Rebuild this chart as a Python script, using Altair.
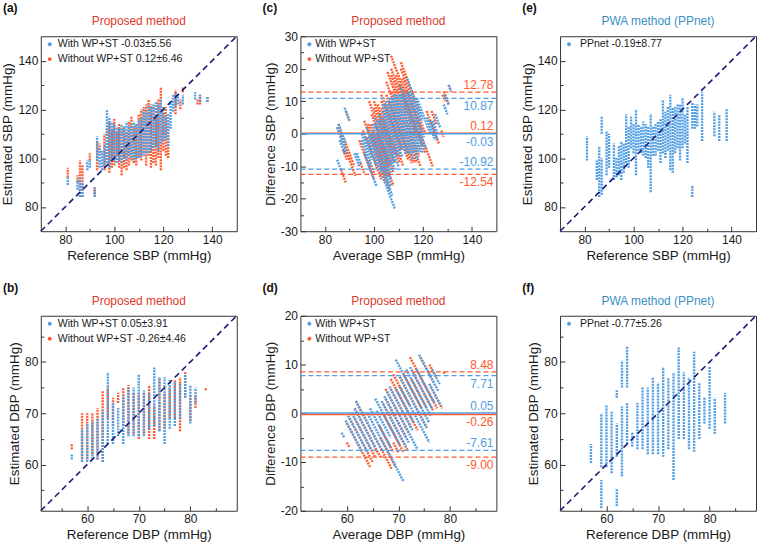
import altair as alt
import pandas as pd

FONT = "Liberation Sans"
BLUE = "#4f9de2"
ORANGE = "#ff5a2e"
NAVY = "#1b1b7a"
TITLE_RED = "#dd3a2c"
TITLE_BLUE = "#3b8ec8"
W, H = 197, 196

# ---- (a) SBP, with WP+ST : reference, estimate low, estimate high (per reference column)
sbp_with_ref = [81, 85, 86, 87, 89, 90, 92, 93, 94, 95, 96, 97, 98, 99, 100, 101, 102, 103, 104, 105, 106, 107, 108,
                109, 110, 111, 112, 113, 114, 115, 116, 117, 118, 119, 120, 121, 122, 123, 124, 125, 126, 128, 133, 135, 138]
sbp_with_lo = [89, 87, 84, 84, 95, 96, 84, 99, 96, 95, 97, 98, 96, 99, 99, 98, 99, 98, 100, 99, 101, 100, 99,
               100, 100, 101, 101, 102, 102, 103, 104, 105, 103, 106, 107, 108, 105, 112, 119, 121, 122, 122, 124, 123, 123]
sbp_with_hi = [92, 91, 92, 90, 99, 99, 88, 109, 104, 103, 106, 120, 117, 115, 114, 113, 112, 114, 113, 115, 113, 114, 115,
               114, 116, 117, 120, 119, 122, 121, 122, 123, 122, 124, 121, 117, 118, 123, 126, 127, 126, 126, 127, 126, 125]
# ---- (a) SBP, without WP+ST
sbp_wo_ref = [81, 85, 86, 87, 90, 92, 93, 94, 96, 97, 98, 99, 100, 101, 102, 103, 104, 105, 106, 107, 108, 109, 110,
              111, 112, 113, 114, 115, 116, 117, 118, 119, 120, 121, 122, 125, 127, 128, 134, 135, 138]
sbp_wo_lo = [92, 90, 84, 84, 99, 85, 95, 102, 95, 98, 94, 96, 97, 101, 96, 93, 96, 95, 97, 99, 98, 97, 101,
             99, 102, 97, 101, 96, 98, 97, 100, 95, 103, 101, 100, 118, 120, 127, 122, 122, 123]
sbp_wo_hi = [96, 93, 99, 97, 102, 88, 107, 106, 110, 112, 115, 112, 116, 111, 114, 112, 113, 111, 115, 117, 113, 114, 118,
             120, 121, 122, 124, 122, 121, 118, 124, 129, 119, 121, 115, 128, 124, 129, 124, 126, 125]
# ---- (b) DBP, with WP+ST
dbp_with_ref = [57, 59, 60, 61, 62, 63, 64, 65, 66, 67, 68, 69, 70, 71, 72, 73, 74, 75, 76, 77, 78, 79, 80, 81]
dbp_with_lo = [61, 60.5, 60.5, 61, 61, 60.5, 64, 64, 65.5, 64, 65.5, 65.5, 65.5, 65.5, 67, 67.5, 66.5, 64, 67, 67.5,
               69, 73, 68, 72]
dbp_with_hi = [62, 67, 68, 68.5, 69, 70.5, 78, 72, 71, 73.5, 75, 75, 77.5, 74.5, 74, 79, 77, 77, 76.5, 76,
               76, 77.5, 75.5, 75]
# ---- (b) DBP, without WP+ST
dbp_wo_ref = [57, 59, 60, 61, 62, 63, 64, 65, 66, 67, 68, 69, 70, 71, 72, 73, 74, 75, 76, 77, 78, 79, 80, 81, 83]
dbp_wo_lo = [63, 61, 61, 62, 61, 60.5, 69, 67.5, 72, 67.5, 66, 66, 65, 66, 65, 65, 66.5, 67, 69, 69,
             66.5, 73, 68.5, 71, 74.5]
dbp_wo_hi = [64, 70, 70, 70, 71, 74.5, 75, 73, 74, 75, 75.5, 74, 74, 74, 75.5, 71.5, 77, 74, 75, 76.5,
             77, 78, 73.5, 73.5, 75]
# ---- (e) SBP, PPnet
ppnet_sbp_ref = [81, 85, 86, 87, 87, 89, 90, 92, 93, 94, 95, 96, 97, 98, 99, 100, 101, 102, 103, 104, 105, 106, 107,
                 108, 109, 110, 111, 112, 113, 114, 115, 116, 117, 118, 119, 120, 121, 122, 124, 124, 125, 126, 128,
                 133, 135, 138]
ppnet_sbp_lo = [99, 91, 84, 85, 110, 93, 96, 91, 92, 93, 91, 94, 98, 96, 104, 102, 93, 103, 102, 101, 100, 96, 86,
                101, 101, 103, 98, 102, 100, 103, 95, 94, 102, 104, 99, 104, 106, 98, 84, 112, 112, 113, 107,
                109, 107, 107]
ppnet_sbp_hi = [109, 99, 105, 100, 117, 111, 110, 106, 100, 105, 107, 106, 118, 113, 117, 114, 120, 114, 113, 115, 114,
                113, 118, 113, 114, 115, 116, 124, 119, 121, 126, 121, 121, 122, 122, 125, 118, 121, 89, 123, 122,
                122, 127, 119, 118, 120]
# ---- (f) DBP, PPnet
ppnet_dbp_ref = [57, 59, 59, 60, 61, 62, 62, 62, 63, 63, 64, 64, 65, 66, 67, 68, 69, 70, 71, 72, 73, 74, 75, 76, 77,
                 78, 79, 80, 81, 83]
ppnet_dbp_lo = [60.3, 59.5, 51.5, 59.5, 58.3, 73, 51.9, 61.5, 75, 57.7, 75, 64, 63.5, 63, 63, 62, 62, 62, 61.5, 63,
                57, 65, 65, 63, 62.5, 65, 68, 67, 66, 68]
ppnet_dbp_hi = [64, 70, 57, 71.5, 70.3, 74.5, 55.4, 68, 80.3, 71.3, 83, 72, 66.4, 72, 75, 75, 77, 76, 79, 77,
                78, 83, 78, 77, 82, 76, 73, 79, 73, 74]

# ---- Bland-Altman statistics (bias and limits of agreement)
ba_series = ["without", "with", "without", "with", "without", "with"]
ba_kind = ["loa", "loa", "mean", "mean", "loa", "loa"]
ba_pos = ["above", "below", "above", "below", "below", "above"]
sbp_ba_val = [12.78, 10.87, 0.12, -0.03, -12.54, -10.92]
sbp_ba_lab = ["12.78", "10.87", "0.12", "-0.03", "-12.54", "-10.92"]
dbp_ba_series = ["without", "with", "without", "with", "without", "with"]
dbp_ba_pos = ["above", "below", "below", "above", "below", "above"]
dbp_ba_val = [8.48, 7.71, -0.26, 0.05, -9.00, -7.61]
dbp_ba_lab = ["8.48", "7.71", "-0.26", "0.05", "-9.00", "-7.61"]

# ---- texts
leg_a = ["With WP+ST -0.03±5.56", "Without WP+ST 0.12±6.46"]
leg_b = ["With WP+ST 0.05±3.91", "Without WP+ST -0.26±4.46"]
leg_cd = ["With WP+ST", "Without WP+ST"]
leg_e = ["PPnet -0.19±8.77"]
leg_f = ["PPnet -0.77±5.26"]

SBP_DOM = [70, 150]
DBP_DOM = [51, 89]
SBP_MAJ, SBP_MIN = [80, 100, 120, 140], [90, 110, 130]
DBP_MAJ, DBP_MIN = [60, 70, 80], [55, 65, 75, 85]
DSBP_DOM, DSBP_MAJ, DSBP_MIN = [-30, 30], [-30, -20, -10, 0, 10, 20, 30], [-25, -15, -5, 5, 15, 25]
DDBP_DOM, DDBP_MAJ, DDBP_MIN = [-20, 20], [-20, -10, 0, 10, 20], [-15, -5, 5, 15]

cscale = alt.Scale(domain=["with", "without"], range=[BLUE, ORANGE])


def frame(ref, lo, hi):
    return pd.DataFrame({"ref": ref, "lo": lo, "hi": hi})


def main_axis(orient, values, title):
    return alt.Axis(orient=orient, values=values, title=title, ticks=False, domain=False, grid=False,
                    labelFont=FONT, labelFontSize=12, labelColor="#1a1a1a", labelPadding=3,
                    labelFlush=False, labelOverlap=False, labelExpr="'' + datum.value",
                    titleFont=FONT, titleFontSize=13.5, titleFontWeight="normal", titleColor="#1a1a1a",
                    titlePadding=3)


def tick_axis(orient, values, size):
    return alt.Axis(orient=orient, values=values, title=None, labels=False, domain=False, grid=False,
                    ticks=True, tickSize=size, tickColor="#333333", tickWidth=1, offset=-size)


def decorations(tag, title, tcolor, legend, colors, text_x):
    out = []
    for i, (lab, col) in enumerate(zip(legend, colors)):
        yy = 8 + 15 * i
        d = pd.DataFrame({"t": [lab]})
        out.append(alt.Chart(d).mark_circle(size=16, color=col, opacity=1).encode(
            x=alt.value(9), y=alt.value(yy)))
        out.append(alt.Chart(d).mark_text(align="left", baseline="middle", font=FONT, fontSize=10.6,
                                          color="#1a1a1a").encode(text="t:N", x=alt.value(text_x), y=alt.value(yy)))
    out.append(alt.Chart(pd.DataFrame({"t": [title]})).mark_text(
        align="center", baseline="middle", font=FONT, fontSize=12, color=tcolor).encode(
        text="t:N", x=alt.value(W / 2), y=alt.value(-15)))
    out.append(alt.Chart(pd.DataFrame({"t": [tag]})).mark_text(
        align="left", baseline="middle", font=FONT, fontSize=12, fontWeight="bold", color="#111").encode(
        text="t:N", x=alt.value(-38), y=alt.value(-28)))
    return out


def carriers(xdom, ydom, xmaj, xmin, ymaj, ymin, sx, sy):
    d = pd.DataFrame({"xv": xdom, "yv": ydom})
    a = alt.Chart(d).mark_point(opacity=0).encode(
        x=alt.X("xv:Q", scale=sx, axis=tick_axis("bottom", xmaj, 5)),
        y=alt.Y("yv:Q", scale=sy, axis=tick_axis("left", ymaj, 5)))
    b = alt.Chart(d).mark_point(opacity=0).encode(
        x=alt.X("xv:Q", scale=sx, axis=tick_axis("bottom", xmin, 3)),
        y=alt.Y("yv:Q", scale=sy, axis=tick_axis("left", ymin, 3)))
    return [a, b]


def scatter_panel(series, dom, maj, mn, xt, yt, tag, title, tcolor, legend, text_x):
    sc = alt.Scale(domain=dom, nice=False, zero=False)
    layers = []
    for i, (df, col) in enumerate(series):
        layers.append(alt.Chart(df).mark_rule(color=col, strokeWidth=2.4, strokeDash=[2, 1], clip=True).encode(
            x=alt.X("ref:Q", scale=sc, axis=main_axis("bottom", maj, xt) if i == 0 else None),
            y=alt.Y("lo:Q", scale=sc, axis=main_axis("left", maj, yt) if i == 0 else None),
            y2="hi:Q"))
    diag = alt.Chart(pd.DataFrame({"v": dom})).mark_line(color=NAVY, strokeDash=[6, 4], strokeWidth=1.6).encode(
        x=alt.X("v:Q", scale=sc, axis=None), y=alt.Y("v:Q", scale=sc, axis=None))
    layers.append(diag)
    layers += carriers(dom, dom, maj, mn, maj, mn, sc, sc)
    cols = [s[1] for s in series][::-1]
    layers += decorations(tag, title, tcolor, legend, cols, text_x)
    return alt.layer(*layers).resolve_axis(x="independent", y="independent").properties(width=W, height=H)


def ba_panel(series, xdom, ydom, xmaj, xmin, ymaj, ymin, xt, yt, stats, tag, legend):
    sx = alt.Scale(domain=xdom, nice=False, zero=False)
    sy = alt.Scale(domain=ydom, nice=False, zero=False)
    layers = []
    for i, (df, col) in enumerate(series):
        layers.append(alt.Chart(df).transform_calculate(
            a1="(datum.ref + datum.lo) / 2", a2="(datum.ref + datum.hi) / 2",
            d1="datum.ref - datum.lo", d2="datum.ref - datum.hi").mark_rule(
            color=col, strokeWidth=2.4, strokeDash=[2, 1], clip=True).encode(
            x=alt.X("a1:Q", scale=sx, axis=main_axis("bottom", xmaj, xt) if i == 0 else None),
            x2="a2:Q",
            y=alt.Y("d1:Q", scale=sy, axis=main_axis("left", ymaj, yt) if i == 0 else None),
            y2="d2:Q"))
    col_enc = alt.Color("series:N", scale=cscale, legend=None)
    layers.append(alt.Chart(stats).transform_filter("datum.kind == 'loa'").mark_rule(
        strokeDash=[5, 3], strokeWidth=1.3).encode(y=alt.Y("val:Q", scale=sy, axis=None), color=col_enc))
    layers.append(alt.Chart(stats).transform_filter("datum.kind == 'mean'").mark_rule(
        strokeWidth=1.5).encode(y=alt.Y("val:Q", scale=sy, axis=None), color=col_enc))
    for pos, dy in (("above", -7), ("below", 8)):
        layers.append(alt.Chart(stats).transform_filter(f"datum.pos == '{pos}'").mark_text(
            align="right", baseline="middle", font=FONT, fontSize=12, dy=dy).encode(
            y=alt.Y("val:Q", scale=sy, axis=None), x=alt.value(W - 3), text="lab:N", color=col_enc))
    layers += carriers(xdom, ydom, xmaj, xmin, ymaj, ymin, sx, sy)
    layers += decorations(tag, "Proposed method", TITLE_RED, legend, [BLUE, ORANGE], 15)
    return alt.layer(*layers).resolve_axis(x="independent", y="independent").properties(width=W, height=H)


sbp_with = frame(sbp_with_ref, sbp_with_lo, sbp_with_hi)
sbp_wo = frame(sbp_wo_ref, sbp_wo_lo, sbp_wo_hi)
dbp_with = frame(dbp_with_ref, dbp_with_lo, dbp_with_hi)
dbp_wo = frame(dbp_wo_ref, dbp_wo_lo, dbp_wo_hi)
pp_sbp = frame(ppnet_sbp_ref, ppnet_sbp_lo, ppnet_sbp_hi)
pp_dbp = frame(ppnet_dbp_ref, ppnet_dbp_lo, ppnet_dbp_hi)

sbp_stats = pd.DataFrame({"series": ba_series, "kind": ba_kind, "pos": ba_pos, "val": sbp_ba_val, "lab": sbp_ba_lab})
dbp_stats = pd.DataFrame({"series": dbp_ba_series, "kind": ba_kind, "pos": dbp_ba_pos, "val": dbp_ba_val,
                          "lab": dbp_ba_lab})

pa = scatter_panel([(sbp_wo, ORANGE), (sbp_with, BLUE)], SBP_DOM, SBP_MAJ, SBP_MIN,
                   "Reference SBP (mmHg)", "Estimated SBP (mmHg)", "(a)", "Proposed method", TITLE_RED, leg_a, 17)
pb = scatter_panel([(dbp_wo, ORANGE), (dbp_with, BLUE)], DBP_DOM, DBP_MAJ, DBP_MIN,
                   "Reference DBP (mmHg)", "Estimated DBP (mmHg)", "(b)", "Proposed method", TITLE_RED, leg_b, 17)
pe = scatter_panel([(pp_sbp, BLUE)], SBP_DOM, SBP_MAJ, SBP_MIN,
                   "Reference SBP (mmHg)", "Estimated SBP (mmHg)", "(e)", "PWA method (PPnet)", TITLE_BLUE, leg_e, 20)
pf = scatter_panel([(pp_dbp, BLUE)], DBP_DOM, DBP_MAJ, DBP_MIN,
                   "Reference DBP (mmHg)", "Estimated DBP (mmHg)", "(f)", "PWA method (PPnet)", TITLE_BLUE, leg_f, 20)
pc = ba_panel([(sbp_wo, ORANGE), (sbp_with, BLUE)], SBP_DOM, DSBP_DOM, SBP_MAJ, SBP_MIN, DSBP_MAJ, DSBP_MIN,
              "Average SBP (mmHg)", "Difference SBP (mmHg)", sbp_stats, "(c)", leg_cd)
pdd = ba_panel([(dbp_wo, ORANGE), (dbp_with, BLUE)], DBP_DOM, DDBP_DOM, DBP_MAJ, DBP_MIN, DDBP_MAJ, DDBP_MIN,
               "Average DBP (mmHg)", "Difference DBP (mmHg)", dbp_stats, "(d)", leg_cd)

chart = alt.concat(pa, pc, pe, pb, pdd, pf, columns=3, spacing={"row": 85, "column": 64}, bounds="flush").properties(
    padding={"left": 0, "top": 0, "right": 0, "bottom": 0}, background="white"
).configure_view(stroke="#333333", strokeWidth=1)

chart.save("out.html", embed_options={"renderer": "svg", "actions": False})
